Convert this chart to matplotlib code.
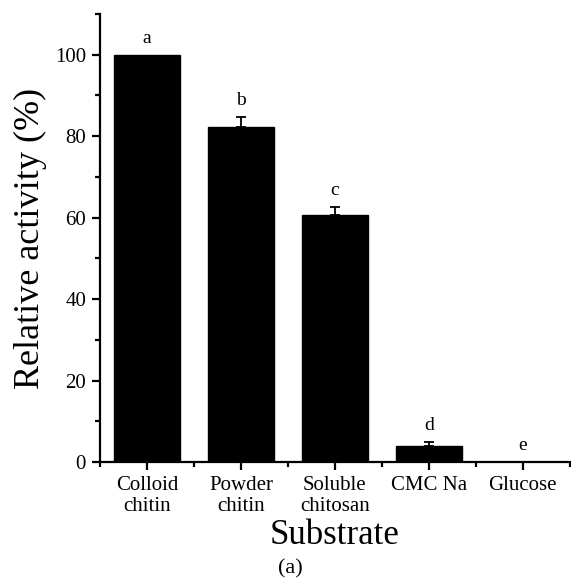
import numpy as np
import matplotlib
matplotlib.use("Agg")
import matplotlib.pyplot as plt
from matplotlib.ticker import MultipleLocator

# substrate specificity data
substrates = ["Colloid\nchitin", "Powder\nchitin", "Soluble\nchitosan", "CMC Na", "Glucose"]
activity = [100.0, 82.2, 60.7, 4.0, 0.0]
errors = [0.0, 2.5, 2.0, 1.0, 0.0]
letters = ["a", "b", "c", "d", "e"]

plt.rcParams["font.family"] = ["Liberation Serif", "DejaVu Serif"]

fig = plt.figure(figsize=(5.71, 5.79), dpi=100)
ax = fig.add_axes([0.175, 0.202, 0.823, 0.774])

x = np.arange(1, len(substrates) + 1)
act = np.array(activity)
err = np.array(errors)
ax.bar(x, act, width=0.71, color="black", edgecolor="black", zorder=2)

# upper error bars only where there is a deviation
has_err = err > 0
ax.errorbar(x[has_err], act[has_err], yerr=[np.zeros(has_err.sum()), err[has_err]],
            fmt="none", ecolor="black", elinewidth=1.3, capsize=3.5, capthick=1.3, zorder=3)

for xi, v, e, lab in zip(x, act, err, letters):
    ax.text(xi, v + e + 4, lab, ha="center", va="center", fontsize=14)

ax.set_xlim(0.5, 5.5)
ax.set_ylim(0, 110)
ax.set_xticks(x)
ax.set_xticklabels(substrates, fontsize=15, linespacing=1.15)
ax.xaxis.set_minor_locator(MultipleLocator(1, offset=0.5))
ax.yaxis.set_major_locator(MultipleLocator(20))
ax.yaxis.set_minor_locator(MultipleLocator(10))
ax.tick_params(axis="y", labelsize=15)

for side in ("top", "right"):
    ax.spines[side].set_visible(False)
for side in ("left", "bottom"):
    ax.spines[side].set_linewidth(1.6)
ax.tick_params(which="major", direction="out", length=6, width=1.6, pad=4)
ax.tick_params(which="minor", direction="out", length=3.5, width=1.6)

ax.set_ylabel("Relative activity (%)", fontsize=26, labelpad=6)
ax.set_xlabel("Substrate", fontsize=25, labelpad=2)

fig.text(0.508, 0.018, "(a)", ha="center", va="center", fontsize=16)

fig.savefig("out.png", dpi=100)
